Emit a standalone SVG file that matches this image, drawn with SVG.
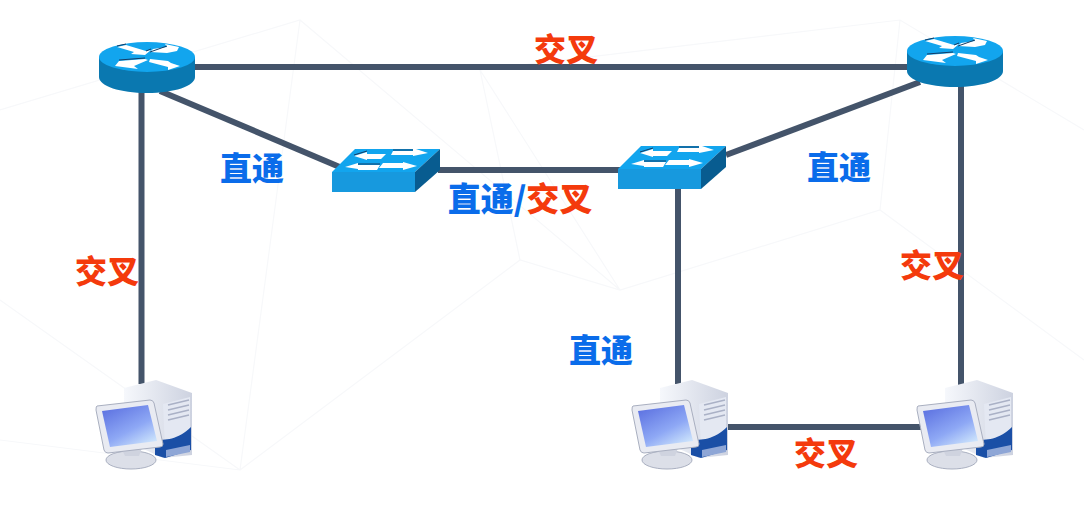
<svg xmlns="http://www.w3.org/2000/svg" width="1084" height="515" viewBox="0 0 1084 515">
<style>
.conn{stroke:#44546a;stroke-width:6;fill:none}
.bg{stroke:#f7f8fa;stroke-width:1.2;fill:none}
text{font-family:"Noto Sans CJK SC","Liberation Sans",sans-serif;font-weight:900;font-size:32px;text-anchor:middle}
.b{fill:#0a6cea}
.r{fill:#f43a0c}
</style>
<defs>
<linearGradient id="screen" x1="0.1" y1="0" x2="0.8" y2="1"><stop offset="0" stop-color="#5a6fe0"/><stop offset="0.6" stop-color="#8ea8f5"/><stop offset="1" stop-color="#cfe6fc"/></linearGradient>
<linearGradient id="tower" x1="0" y1="0" x2="1" y2="0"><stop offset="0" stop-color="#f6f8fc"/><stop offset="1" stop-color="#cdd2e0"/></linearGradient>
<g id="router">
<path d="M99 57V77C99 86 120 93 147 93S195 86 195 77V57Z" fill="#0a78b0"/>
<ellipse cx="147" cy="57" rx="48" ry="15" fill="#12a5ee"/>
<g fill="#fff">
<path d="M117 47L126 45L146 51L151 50L145 55L131 54L134 52Z"/>
<path d="M179 47L177 51L167 53L150 52L153 49L167 47L165 44Z"/>
<path d="M115 66L119 61L145 59L148 60L134 66L138 69Z"/>
<path d="M180 66L168 70L168 67L149 62L150 59L168 61L171 63Z"/>
</g>
<path d="M117 46L126 44M146 51L151 49M150 52L167 46M119 60L145 58" stroke="#123c66" stroke-width="1" fill="none"/>
</g>
<g id="switch">
<path d="M332 172H415L440 149H355Z" fill="#12a5ee"/>
<path d="M332 172H415V192H332Z" fill="#1799de"/>
<path d="M415 172L440 149V170L415 192Z" fill="#085c90"/>
<g fill="#fff">
<path d="M354 156L367 152V154H386L381 159H367V160Z"/>
<path d="M393 151H413V148L428 153L413 156V155H391Z"/>
<path d="M345 167L358 163V165H380L377 170H358V169Z"/>
<path d="M383 163H403V162L417 166L403 170V168H379Z"/>
</g>
<path d="M354 155L367 151M393 150H413M358 164H380" stroke="#123c66" stroke-width="1" fill="none"/>
</g>
<g id="pc">
<path d="M124 388L156 380L192 393V455L163 458L124 440Z" fill="url(#tower)"/>
<path d="M163 404L190 397V443L165 448Z" fill="#e4e8f2"/>
<g stroke="#aab1c6" stroke-width="1.500"><path d="M168 405L189 400M168 410L189 405M168 415L189 410M168 420L189 415"/></g>
<path d="M155 440C165 440 178 440 191 427V450L165 458L155 455Z" fill="#1a4fa6"/>
<path d="M166 450L190 445V452L166 457Z" fill="#8ea6d6"/>
<ellipse cx="131" cy="460" rx="25" ry="9" fill="#dcdfe8" stroke="#a9afc0"/>
<path d="M121 448H142L139 456H125Z" fill="#cfd3df"/>
<path d="M97 406L150 400Q153 400 154 403L163 444Q163 447 160 447L108 453Q105 453 104 450L96 410Q96 406 97 406Z" fill="#e9ebf2" stroke="#a9afc0"/>
<path d="M102 411L148 405L157 441L110 447Z" fill="url(#screen)"/>
</g>
</defs>
<rect width="1084" height="515" fill="#fff"/>
<g id="background" class="bg">
<path d="M0 110L300 20L620 290L480 70L900 20L1084 130M0 300L240 470L520 260L620 290L880 210L1084 360M300 20L240 470M520 260L480 70M880 210L900 20M0 440L240 470"/>
</g>
<g id="connectors">
<path class="conn" d="M190 67H912"/>
<path class="conn" d="M141.500 88V384"/>
<path class="conn" d="M160 91L342 168"/>
<path class="conn" d="M438 170H622"/>
<path class="conn" d="M726 155L920 82"/>
<path class="conn" d="M961 82V386"/>
<path class="conn" d="M678 186V384"/>
<path class="conn" d="M726 427H922"/>
</g>
<g id="router1"><use href="#router"/></g>
<g id="router2"><use href="#router" x="808" y="-6"/></g>
<g id="switch1"><use href="#switch"/></g>
<g id="switch2"><use href="#switch" x="286" y="-3"/></g>
<g id="pc1"><use href="#pc"/></g>
<g id="pc2"><use href="#pc" x="536"/></g>
<g id="pc3"><use href="#pc" x="821"/></g>
<g id="labels">
<text class="r" x="566" y="61">交叉</text>
<text class="b" x="252" y="180">直通</text>
<text class="b" x="839" y="179">直通</text>
<text x="520" y="211" style="font-size:33px"><tspan class="b">直通/</tspan><tspan class="r">交叉</tspan></text>
<text class="r" x="107" y="283">交叉</text>
<text class="r" x="932" y="277">交叉</text>
<text class="b" x="601" y="362">直通</text>
<text class="r" x="826" y="465">交叉</text>
</g>
</svg>
